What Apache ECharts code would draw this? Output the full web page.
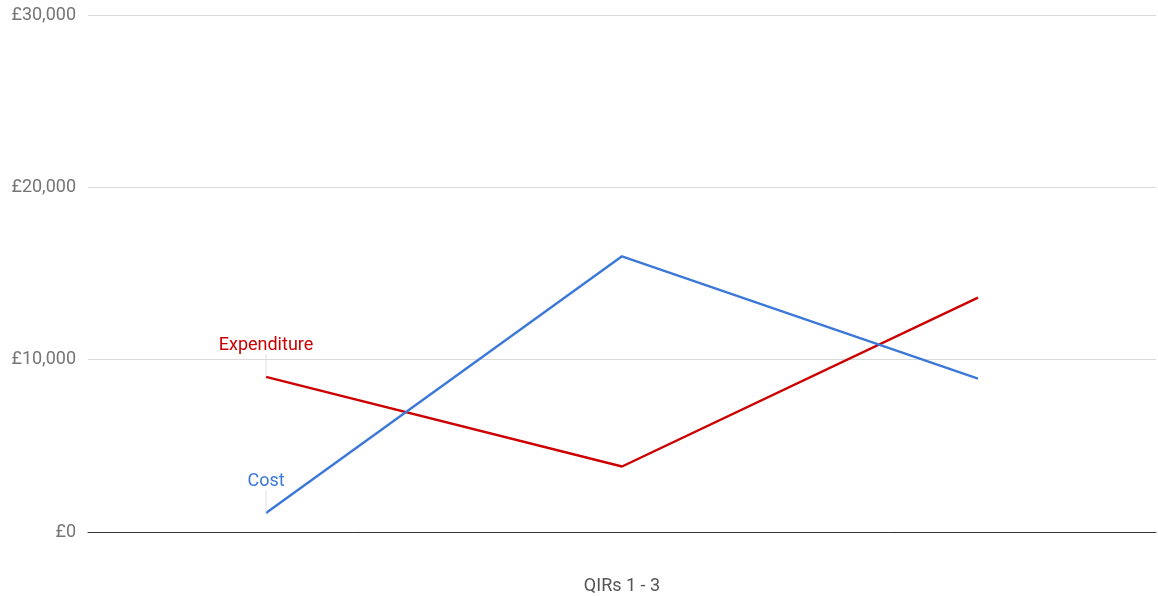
<!DOCTYPE html>
<html>
<head>
<meta charset="utf-8">
<script src="https://cdn.jsdelivr.net/npm/echarts@6/dist/echarts.min.js"></script>
<style>
html,body{margin:0;padding:0;background:#fff;}
#main{width:1158px;height:596px;}
</style>
</head>
<body>
<div id="main"></div>
<script>
var categories = ['QIR 1', 'QIR 2', 'QIR 3'];
var costValues = [1100, 16000, 8900];
var expenditureValues = [9000, 3800, 13600];
var yTicks = [0, 10000, 20000, 30000];
var xAxisTitle = 'QIRs 1 - 3';

function withFirstLabel(values, name, color) {
  return values.map(function (v, i) {
    if (i !== 0) return v;
    return {
      value: v,
      label: {
        show: true, position: 'top', distance: 4, formatter: name,
        color: color, fontSize: 18, fontFamily: 'Roboto'
      },
      labelLine: { show: true, lineStyle: { color: '#e0e0e0', width: 1 } }
    };
  });
}

var chart = echarts.init(document.getElementById('main'), null, {renderer: 'canvas'});
chart.setOption({
  animation: false,
  grid: { left: 88, right: 2, top: 15, bottom: 64, containLabel: false, outerBoundsMode: 'none' },
  xAxis: {
    type: 'category',
    data: categories,
    boundaryGap: true,
    name: xAxisTitle,
    nameLocation: 'middle',
    nameGap: 45,
    nameTextStyle: { color: '#555555', fontSize: 18, fontFamily: 'Roboto' },
    axisLine: { show: true, lineStyle: { color: '#333333', width: 1 } },
    axisTick: { show: false },
    axisLabel: { show: false }
  },
  yAxis: {
    type: 'value',
    min: yTicks[0],
    max: yTicks[yTicks.length - 1],
    interval: 10000,
    axisLine: { show: false },
    axisTick: { show: false },
    axisLabel: {
      margin: 12,
      color: '#757575', fontSize: 18, fontFamily: 'Roboto',
      formatter: function (v) { return '£' + v.toLocaleString('en-GB'); }
    },
    splitLine: { lineStyle: { color: '#d9d9d9', width: 1 } }
  },
  series: [
    {
      name: 'Expenditure',
      type: 'line',
      data: withFirstLabel(expenditureValues, 'Expenditure', '#cc0000'),
      symbol: 'circle',
      symbolSize: 1,
      showSymbol: true,
      lineStyle: { color: '#cc0000', width: 2.4 },
      itemStyle: { color: 'rgba(0,0,0,0)' },
      labelLayout: { dy: -18 }
    },
    {
      name: 'Cost',
      type: 'line',
      data: withFirstLabel(costValues, 'Cost', '#3c78d8'),
      symbol: 'circle',
      symbolSize: 1,
      showSymbol: true,
      lineStyle: { color: '#3c78d8', width: 2.4 },
      itemStyle: { color: 'rgba(0,0,0,0)' },
      labelLayout: { dy: -18 }
    }
  ]
});
</script>
</body>
</html>
